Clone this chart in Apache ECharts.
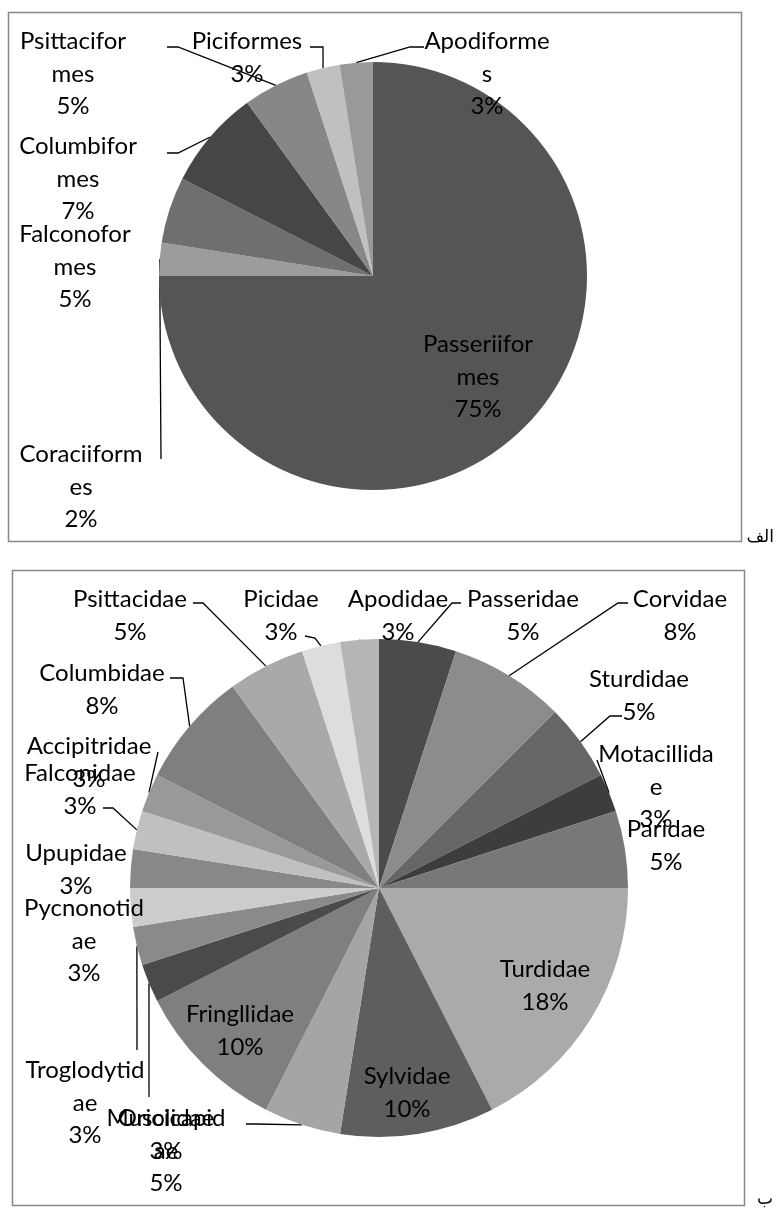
<!DOCTYPE html>
<html>
<head>
<meta charset="utf-8">
<script src="https://cdn.jsdelivr.net/npm/echarts@6/dist/echarts.min.js"></script>
<style>
  html, body { margin: 0; padding: 0; background: #ffffff; }
  #chart { width: 776px; height: 1209px; }
</style>
</head>
<body>
<div id="chart"></div>
<script>
// ---------- DATA (chart a: orders) ----------
const orderNames = ['Passeriiformes', 'Coraciiformes', 'Falconoformes', 'Columbiformes', 'Psittaciformes', 'Piciformes', 'Apodiformes'];
const orderLabelText = ['Passeriifor\nmes', 'Coraciiform\nes', 'Falconofor\nmes', 'Columbifor\nmes', 'Psittacifor\nmes', 'Piciformes', 'Apodiforme\ns'];
const orderCounts = [30, 1, 2, 3, 2, 1, 1];
const orderPctLabels = ['75%', '2%', '5%', '7%', '5%', '3%', '3%'];

// ---------- DATA (chart b: families) ----------
const familyNames = ['Passeridae', 'Corvidae', 'Sturdidae', 'Motacillidae', 'Paridae', 'Turdidae', 'Sylvidae', 'Muscicapidae', 'Fringllidae', 'Oriolidae', 'Troglodytidae', 'Pycnonotidae', 'Upupidae', 'Falconidae', 'Accipitridae', 'Columbidae', 'Psittacidae', 'Picidae', 'Apodidae'];
const familyLabelText = ['Passeridae', 'Corvidae', 'Sturdidae', 'Motacillida\ne', 'Paridae', 'Turdidae', 'Sylvidae', 'Muscicapid\nae', 'Fringllidae', 'Oriolidae', 'Troglodytid\nae', 'Pycnonotid\nae', 'Upupidae', 'Falconidae', 'Accipitridae', 'Columbidae', 'Psittacidae', 'Picidae', 'Apodidae'];
const familyCounts = [2, 3, 2, 1, 2, 7, 4, 2, 4, 1, 1, 1, 1, 1, 1, 3, 2, 1, 1];
const familyPctLabels = ['5%', '8%', '5%', '3%', '5%', '18%', '10%', '5%', '10%', '3%', '3%', '3%', '3%', '3%', '3%', '8%', '5%', '3%', '3%'];

// ---------- STYLES ----------
const orderColors = ['#555555', '#9c9c9c', '#6f6f6f', '#464646', '#878787', '#c0c0c0', '#999999'];
const familyColors = ['#4b4b4b', '#8c8c8c', '#666666', '#3d3d3d', '#787878', '#aaaaaa', '#5e5e5e', '#a5a5a5', '#7f7f7f', '#4a4a4a', '#8a8a8a', '#cccccc', '#888888', '#c0c0c0', '#999999', '#7f7f7f', '#a9a9a9', '#dddddd', '#b5b5b5'];

// label placement (centre of text block) and leader-line end/elbow
const orderLabelLayout = [
  { x: 478, y: 377 },
  { x: 81, y: 487, line: [[161, 459], [161, 459]] },
  { x: 75, y: 267 },
  { x: 78, y: 179, line: [[178, 153], [167, 153]] },
  { x: 73, y: 74, line: [[178, 47], [167, 47]] },
  { x: 247, y: 58, line: [[323, 47], [310, 47]] },
  { x: 487, y: 74, line: [[410, 47], [424, 47]] }
];
const familyLabelLayout = [
  { x: 523, y: 616, line: [[452, 603], [461, 603]] },
  { x: 680, y: 616, line: [[618, 603], [628, 603]] },
  { x: 639, y: 696, line: [[610, 716], [622, 716]] },
  { x: 656, y: 787, line: [[597, 760], [597, 760]] },
  { x: 666, y: 846 },
  { x: 545, y: 986 },
  { x: 407, y: 1093 },
  { x: 166, y: 1151, line: [[256, 1124], [246, 1124]] },
  { x: 240, y: 1031 },
  { x: 166, y: 1135, line: [[149, 1097], [149, 1097]] },
  { x: 85, y: 1103, line: [[137, 1050], [137, 1050]] },
  { x: 84, y: 941 },
  { x: 76, y: 870 },
  { x: 80, y: 790, line: [[113, 808], [103, 808]] },
  { x: 89, y: 763, line: [[158, 752], [158, 752]] },
  { x: 102, y: 690, line: [[183, 678], [170, 678]] },
  { x: 130, y: 616, line: [[203, 603], [193, 603]] },
  { x: 281, y: 616, line: [[315, 638], [305, 636]] },
  { x: 398, y: 616, line: [[364, 647], [381, 645]] }
];

function buildData(names, counts, colors, layout) {
  return names.map(function (n, i) {
    return {
      name: n,
      value: counts[i],
      itemStyle: { color: colors[i] },
      labelLine: { show: !!layout[i].line }
    };
  });
}

function makeLabelLayout(layout) {
  return function (p) {
    const L = layout[p.dataIndex];
    const out = { x: L.x, y: L.y, align: 'center', verticalAlign: 'middle' };
    if (L.line && p.labelLinePoints && p.labelLinePoints.length) {
      out.labelLinePoints = [p.labelLinePoints[0], L.line[0], L.line[1]];
    }
    return out;
  };
}

const labelStyle = {
  show: true,
  position: 'outside',
  fontFamily: 'Lato',
  fontSize: 24,
  lineHeight: 32.5,
  color: '#000000',
  align: 'center'
};

const chart = echarts.init(document.getElementById('chart'), null, { renderer: 'canvas' });
chart.setOption({
  animation: false,
  backgroundColor: '#ffffff',
  graphic: [
    { type: 'rect', shape: { x: 8.5, y: 12.5, width: 733, height: 529 }, style: { fill: 'none', stroke: '#878787', lineWidth: 1.5 }, z: 0 },
    { type: 'rect', shape: { x: 12.5, y: 570.5, width: 732, height: 635 }, style: { fill: 'none', stroke: '#878787', lineWidth: 1.5 }, z: 0 },
    { type: 'text', x: 774, y: 538, style: { text: 'الف', font: '17px "DejaVu Sans"', fill: '#000', align: 'right', verticalAlign: 'middle' } },
    { type: 'text', x: 773, y: 1200, style: { text: 'ب', font: '17px "DejaVu Sans"', fill: '#000', align: 'right', verticalAlign: 'middle' } }
  ],
  series: [
    {
      type: 'pie',
      center: [373, 276],
      radius: 214,
      startAngle: 90,
      clockwise: true,
      avoidLabelOverlap: false,
      emphasis: { disabled: true },
      itemStyle: { borderWidth: 0 },
      label: Object.assign({}, labelStyle, {
        formatter: function (p) { return orderLabelText[p.dataIndex] + '\n' + orderPctLabels[p.dataIndex]; }
      }),
      labelLine: { show: true, length: 10, length2: 10, smooth: false, lineStyle: { color: '#000000', width: 1.3 } },
      labelLayout: makeLabelLayout(orderLabelLayout),
      data: buildData(orderNames, orderCounts, orderColors, orderLabelLayout)
    },
    {
      type: 'pie',
      center: [379, 888],
      radius: 249,
      startAngle: 90,
      clockwise: true,
      avoidLabelOverlap: false,
      emphasis: { disabled: true },
      itemStyle: { borderWidth: 0 },
      label: Object.assign({}, labelStyle, {
        formatter: function (p) { return familyLabelText[p.dataIndex] + '\n' + familyPctLabels[p.dataIndex]; }
      }),
      labelLine: { show: true, length: 10, length2: 10, smooth: false, lineStyle: { color: '#000000', width: 1.3 } },
      labelLayout: makeLabelLayout(familyLabelLayout),
      data: buildData(familyNames, familyCounts, familyColors, familyLabelLayout)
    }
  ]
});
</script>
</body>
</html>
